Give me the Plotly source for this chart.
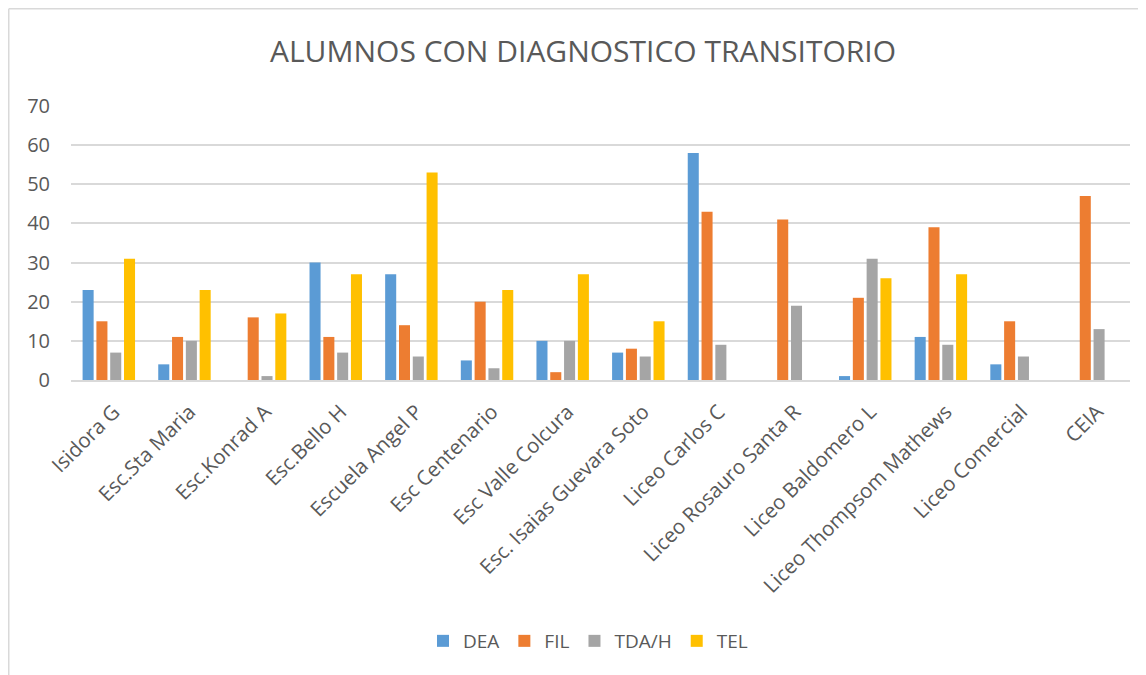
import plotly.graph_objects as go

categories = ["Isidora G", "Esc.Sta Maria", "Esc.Konrad A", "Esc.Bello H", "Escuela Angel P",
              "Esc Centenario", "Esc Valle Colcura", "Esc. Isaias Guevara Soto", "Liceo Carlos C",
              "Liceo Rosauro Santa R", "Liceo Baldomero L", "Liceo Thompsom Mathews",
              "Liceo Comercial", "CEIA"]
dea = [23, 4, 0, 30, 27, 5, 10, 7, 58, 0, 1, 11, 4, 0]
fil = [15, 11, 16, 11, 14, 20, 2, 8, 43, 41, 21, 39, 15, 47]
tdah = [7, 10, 1, 7, 6, 3, 10, 6, 9, 19, 31, 9, 6, 13]
tel = [31, 23, 17, 27, 53, 23, 27, 15, 0, 0, 26, 27, 0, 0]
y_ticks = [0, 10, 20, 30, 40, 50, 60, 70]

series = [("DEA", dea, "#5B9BD5"), ("FIL", fil, "#ED7D31"),
          ("TDA/H", tdah, "#A5A5A5"), ("TEL", tel, "#FFC000")]

# page body has an 8px margin, so the figure is offset by 8px in the window
OFF = 8
W, H = 1146 - OFF, 675 - OFF
L, R, T, B = 71 - OFF, 16, 106 - OFF, 295

fig = go.Figure()
for name, vals, col in series:
    fig.add_trace(go.Bar(x=categories, y=vals, name=name, marker_color=col,
                         marker_line_width=0))

pw = W - L - R
ph = H - T - B

def px2x(sx):
    return (sx - OFF - L) / pw

def py2y(sy):
    return (H - B - (sy - OFF)) / ph

font_family = "Open Sans, Liberation Sans, sans-serif"
fig.update_layout(
    width=W, height=H,
    margin=dict(l=L, r=R, t=T, b=B, autoexpand=False),
    paper_bgcolor="white", plot_bgcolor="white",
    barmode="group", bargap=0.27, bargroupgap=0.2,
    title=dict(text="ALUMNOS CON DIAGNOSTICO TRANSITORIO",
               x=(583 - OFF) / W, xanchor="center",
               y=1 - (51 - OFF) / H, yanchor="middle",
               font=dict(family=font_family, size=30, color="#595959")),
    font=dict(family=font_family, color="#595959"),
    legend=dict(orientation="h", x=(588 - OFF - L) / pw, xanchor="center", xref="paper",
                y=py2y(641), yanchor="middle",
                font=dict(size=19, color="#595959"),
                traceorder="normal"),
    showlegend=True,
    shapes=[
        dict(type="line", xref="paper", yref="paper", x0=px2x(OFF + 0.75), x1=px2x(1150),
             y0=py2y(OFF + 0.75), y1=py2y(OFF + 0.75), line=dict(color="#D9D9D9", width=1.5)),
        dict(type="line", xref="paper", yref="paper", x0=px2x(OFF + 0.75), x1=px2x(OFF + 0.75),
             y0=py2y(OFF + 0.75), y1=py2y(680), line=dict(color="#D9D9D9", width=1.5)),
    ],
)
fig.update_xaxes(tickangle=-45, tickfont=dict(size=20.5, color="#595959"),
                 showline=True, linecolor="#D9D9D9", linewidth=1.5, ticks="",
                 showgrid=False, ticklabelstandoff=10, ticklabelshift=5)
fig.update_yaxes(range=[0, 70], tickvals=y_ticks, tickfont=dict(size=20, color="#595959"),
                 gridcolor="#D9D9D9", gridwidth=1.5, zeroline=False, showline=False,
                 ticklabelstandoff=20)

fig.write_html("out.html")
